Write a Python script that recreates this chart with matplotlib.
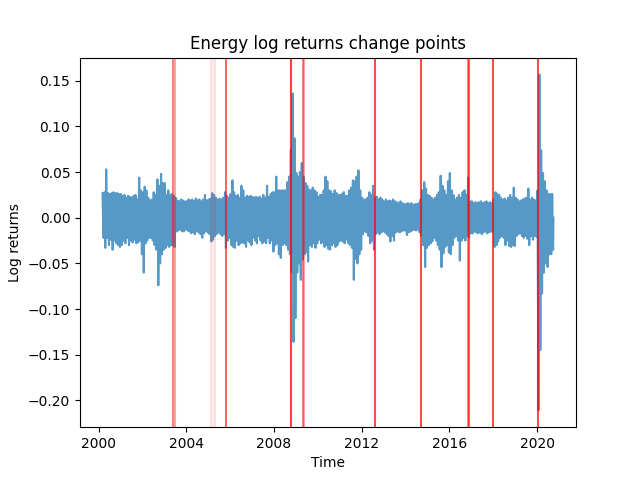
import numpy as np
import pandas as pd
import matplotlib
matplotlib.use('Agg')
import matplotlib.pyplot as plt

# Monthly envelope of the daily log returns, Mar 2000 - Sep 2020
highs = [
    .027, .028, .053, .027, .026, .027, .028, .027, .027, .026,              # 2000 (Mar-Dec)
    .026, .024, .025, .022, .024, .023, .022, .024, .025, .020, .044, .030,  # 2001
    .028, .034, .030, .022, .019, .020, .028, .025, .042, .035, .048, .038,  # 2002
    .038, .025, .030, .025, .026, .024, .022, .019, .018, .020, .019, .018,  # 2003
    .018, .020, .019, .020, .018, .021, .019, .020, .018, .020, .025, .019,  # 2004
    .020, .021, .027, .025, .022, .020, .021, .020, .022, .028, .024, .022,  # 2005
    .026, .041, .028, .024, .025, .022, .035, .030, .022, .024, .023, .024,  # 2006
    .023, .022, .023, .022, .023, .021, .025, .022, .035, .023, .026, .028,  # 2007
    .028, .045, .030, .030, .030, .030, .030, .039, .045, .075, .136, .087,  # 2008
    .049, .045, .050, .060, .045, .038, .035, .031, .030, .033, .030, .028,  # 2009
    .023, .025, .025, .030, .045, .040, .030, .029, .026, .030, .027, .025,  # 2010
    .025, .026, .028, .024, .024, .030, .033, .041, .040, .045, .052, .030,  # 2011
    .022, .020, .020, .022, .028, .025, .035, .022, .023, .020, .022, .020,  # 2012
    .018, .020, .018, .019, .018, .020, .018, .017, .016, .018, .016, .015,  # 2013
    .015, .016, .015, .016, .014, .015, .015, .016, .020, .030, .039, .032,  # 2014
    .025, .024, .022, .020, .022, .025, .028, .046, .035, .030, .025, .040,  # 2015
    .049, .030, .025, .020, .022, .025, .022, .028, .030, .025, .044, .018,  # 2016
    .018, .016, .017, .016, .017, .018, .016, .017, .018, .016, .017, .016,  # 2017
    .020, .028, .026, .025, .022, .020, .021, .019, .022, .025, .022, .033,  # 2018
    .022, .020, .018, .019, .020, .021, .022, .032, .020, .022, .020, .019,  # 2019
    .030, .157, .074, .049, .040, .030, .026, .026, .026,                    # 2020 (Jan-Sep)
]
lows = [
    -.022, -.033, -.022, -.030, -.024, -.035, -.025, -.028, -.030, -.032,                # 2000
    -.030, -.025, -.028, -.022, -.030, -.025, -.027, -.024, -.028, -.027, -.025, -.040,  # 2001
    -.060, -.028, -.025, -.022, -.022, -.025, -.030, -.035, -.074, -.050, -.040, -.035,  # 2002
    -.033, -.030, -.032, -.030, -.030, -.032, -.015, -.014, -.013, -.015, -.015, -.013,  # 2003
    -.014, -.015, -.017, -.016, -.018, -.015, -.016, -.018, -.022, -.017, -.015, -.016,  # 2004
    -.018, -.026, -.024, -.020, -.018, -.016, -.018, -.020, -.018, -.033, -.025, -.022,  # 2005
    -.030, -.032, -.033, -.025, -.030, -.028, -.027, -.028, -.032, -.025, -.027, -.030,  # 2006
    -.022, -.025, -.028, -.020, -.025, -.028, -.026, -.028, -.022, -.028, -.025, -.037,  # 2007
    -.030, -.028, -.040, -.044, -.030, -.028, -.030, -.035, -.040, -.060, -.136, -.110,  # 2008
    -.060, -.050, -.068, -.046, -.040, -.038, -.048, -.030, -.032, -.028, -.033, -.028,  # 2009
    -.024, -.028, -.027, -.032, -.030, -.034, -.035, -.030, -.028, -.032, -.030, -.026,  # 2010
    -.025, -.026, -.028, -.024, -.028, -.030, -.033, -.068, -.045, -.050, -.040, -.035,  # 2011
    -.018, -.015, -.016, -.020, -.028, -.025, -.035, -.018, -.016, -.018, -.016, -.015,  # 2012
    -.016, -.018, -.020, -.026, -.020, -.025, -.016, -.015, -.016, -.015, -.014, -.014,  # 2013
    -.019, -.016, -.015, -.014, -.013, -.014, -.013, -.016, -.020, -.030, -.054, -.033,  # 2014
    -.030, -.028, -.026, -.022, -.025, -.030, -.035, -.054, -.039, -.032, -.030, -.038,  # 2015
    -.040, -.030, -.022, -.020, -.025, -.047, -.025, -.022, -.025, -.020, -.022, -.017,  # 2016
    -.017, -.015, -.016, -.017, -.016, -.018, -.016, -.015, -.017, -.016, -.015, -.016,  # 2017
    -.032, -.030, -.026, -.022, -.020, -.022, -.030, -.025, -.031, -.032, -.030, -.031,  # 2018
    -.020, -.018, -.017, -.020, -.022, -.020, -.023, -.030, -.020, -.024, -.020, -.021,  # 2019
    -.211, -.145, -.083, -.060, -.050, -.054, -.040, -.040, -.035,                       # 2020
]

# Detected change points and their probability (used as line alpha)
cp_dates = ['2003-06-01', '2003-07-01', '2005-02-15', '2005-03-20', '2005-05-01',
            '2005-10-20', '2008-10-08', '2009-04-22', '2009-05-18', '2012-08-10',
            '2014-09-10', '2016-11-08', '2016-11-20', '2018-01-01', '2020-01-20']
cp_prob = [0.5, 0.35, 0.12, 0.07, 0.12,
           0.6, 0.75, 0.45, 0.35, 0.7,
           0.7, 0.45, 0.6, 0.7, 0.7]

months = pd.date_range('2000-03-01', '2020-09-01', freq='MS')
assert len(months) == len(highs) == len(lows)

# one high and one low per month
times = []
values = []
for m, h, l in zip(months, highs, lows):
    times += [m + pd.Timedelta(days=7), m + pd.Timedelta(days=22)]
    values += [h, l]
times.append(months[-1] + pd.Timedelta(days=28))
values.append(0.0)

fig, ax = plt.subplots(figsize=(6.4, 4.8), dpi=100)
ax.plot(times, values, color='C0', alpha=0.75)
for d, p in zip(cp_dates, cp_prob):
    ax.axvline(pd.Timestamp(d), color='red', alpha=p)

ax.set_title('Energy log returns change points')
ax.set_xlabel('Time')
ax.set_ylabel('Log returns')

plt.savefig('out.png', dpi=100)
